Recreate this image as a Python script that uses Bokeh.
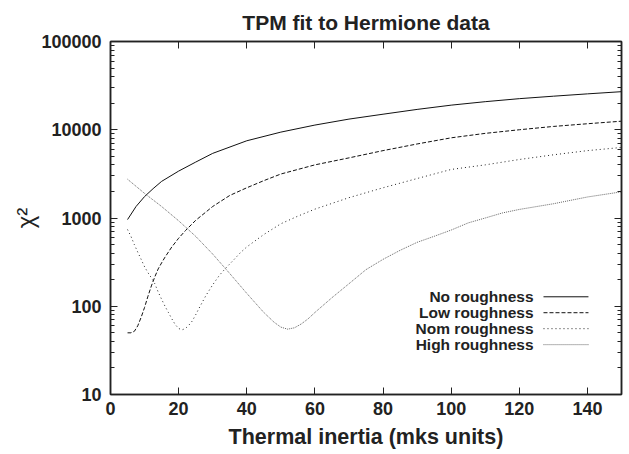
from bokeh.plotting import figure
from bokeh.models import (FixedTicker, LinearAxis, LogAxis, Label, Arrow, Range1d,
                          CustomJSTickFormatter)
from bokeh.embed import file_html
from bokeh.resources import INLINE

# ---------------- data ----------------
TITLE = "TPM fit to Hermione data"
X_LABEL = "Thermal inertia (mks units)"
Y_LABEL = "χ²"
X_TICKS = [0, 20, 40, 60, 80, 100, 120, 140]
Y_TICKS = [10, 100, 1000, 10000, 100000]
Y_TICK_LABELS = ["10", "100", "1000", "10000", "100000"]
Y_MINOR = [m * d for d in [10, 100, 1000, 10000] for m in range(2, 10)]

SERIES_NAMES = ["No roughness", "Low roughness", "Nom roughness", "High roughness"]

NO_X = [5, 7.5, 10, 12.5, 15, 20, 25, 30, 40, 50, 60, 70, 80, 90, 100, 110, 120, 130, 140, 150]
NO_Y = [960, 1350, 1750, 2150, 2600, 3400, 4300, 5400, 7500, 9400, 11300, 13200, 15000, 17000,
        19000, 20800, 22500, 24000, 25500, 27000]

LOW_X = [5, 6, 7, 8, 9, 10, 11, 12, 13, 14, 15, 16, 18, 20, 22, 25, 30, 35, 40, 45, 50, 60, 70,
         80, 90, 100, 110, 120, 130, 140, 150]
LOW_Y = [50, 50, 52, 60, 75, 97, 130, 170, 215, 265, 310, 360, 470, 590, 720, 940, 1350, 1800,
         2200, 2650, 3150, 4000, 4800, 5800, 6900, 8100, 9100, 10000, 10900, 11700, 12500]

NOM_X = [5, 6, 7, 8, 9, 10, 11, 12, 13, 14, 15, 16, 17, 18, 19, 20, 21, 22, 23, 24, 25, 26, 27,
         28, 30, 32, 34, 36, 38, 40, 45, 50, 55, 60, 70, 80, 90, 100, 110, 120, 130, 140, 150]
NOM_Y = [740, 620, 500, 410, 340, 280, 240, 210, 180, 145, 120, 100, 85, 72, 62, 56, 54, 56, 61,
         68, 80, 95, 112, 132, 175, 225, 275, 330, 400, 470, 650, 860, 1050, 1260, 1700, 2200,
         2800, 3550, 4000, 4600, 5200, 5800, 6300]

HIGH_X = [5, 10, 15, 20, 25, 30, 35, 40, 45, 48, 50, 52, 54, 56, 58, 60, 65, 70, 75, 80, 85, 90,
          95, 100, 105, 110, 115, 120, 130, 140, 150]
HIGH_Y = [2750, 1900, 1350, 930, 620, 390, 235, 140, 85, 66, 58, 55, 57, 63, 72, 85, 125, 180,
          260, 340, 430, 530, 620, 730, 880, 1000, 1140, 1250, 1450, 1730, 1980]

# ---------------- styles ----------------
FONT = "Liberation Sans"
DASHES = ["solid", "4 2", "1 3", "1 1"]
COLORS = ["#111111", "#111111", "#222222", "#555555"]
WIDTHS = [1.0, 1.0, 1.0, 0.9]

p = figure(width=629, height=454,
           x_range=Range1d(0, 150), y_range=Range1d(10, 100000),
           y_axis_type="log", output_backend="svg", toolbar_location=None,
           min_border_left=110, min_border_right=8, min_border_top=40, min_border_bottom=60)

p.title.text = TITLE
p.title.align = "center"
p.title.text_font = FONT
p.title.text_font_size = "21px"
p.title.text_font_style = "bold"
p.title.text_color = "#222222"
p.title.standoff = 16

p.xgrid.visible = False
p.ygrid.visible = False
p.outline_line_color = "#222222"
p.outline_line_width = 1.5
p.background_fill_color = "white"
p.border_fill_color = "white"

xs = [NO_X, LOW_X, NOM_X, HIGH_X]
ys = [NO_Y, LOW_Y, NOM_Y, HIGH_Y]
for i in range(4):
    p.line(xs[i], ys[i], line_color=COLORS[i], line_width=WIDTHS[i], line_dash=DASHES[i])

# axes
xa = p.xaxis[0]
xa.ticker = FixedTicker(ticks=X_TICKS)
xa.axis_label = X_LABEL
ya = p.yaxis[0]
ya.ticker = FixedTicker(ticks=Y_TICKS, minor_ticks=Y_MINOR)
ya.major_label_overrides = {t: l for t, l in zip(Y_TICKS, Y_TICK_LABELS)}
ya.axis_label = Y_LABEL

blank = CustomJSTickFormatter(code="return '';")
top = LinearAxis(ticker=FixedTicker(ticks=X_TICKS), formatter=blank)
right = LogAxis(ticker=FixedTicker(ticks=Y_TICKS, minor_ticks=Y_MINOR), formatter=blank)
p.add_layout(top, "above")
p.add_layout(right, "right")

for ax in [xa, ya, top, right]:
    ax.axis_line_color = "#222222"
    ax.axis_line_width = 1.5
    ax.major_tick_line_color = "#222222"
    ax.minor_tick_line_color = "#222222"
    ax.major_tick_in = 7
    ax.major_tick_out = 0
    ax.minor_tick_in = 4
    ax.minor_tick_out = 0
    ax.major_label_text_font = FONT
    ax.major_label_text_font_style = "bold"
    ax.major_label_text_font_size = "18px"
    ax.major_label_text_color = "#222222"
    ax.axis_label_text_font = FONT
    ax.axis_label_text_color = "#222222"

for ax in [xa, top]:
    ax.minor_tick_line_color = None

for ax in [top, right]:
    ax.major_label_standoff = 0

xa.major_label_standoff = 7
xa.axis_label_text_font_size = "21.5px"
xa.axis_label_text_font_style = "bold"
xa.axis_label_standoff = 7
ya.major_label_standoff = 9
ya.axis_label_text_font_size = "24px"
ya.axis_label_text_font_style = "normal"
ya.axis_label_standoff = -1

# legend (text right-aligned, sample line to the right)
LEG_TEXT_X = 124.2
LEG_LINE_X0 = 127.1
LEG_LINE_X1 = 140.3
LEG_Y = [128, 84.5, 55.7, 36.7]
for i, name in enumerate(SERIES_NAMES):
    p.add_layout(Label(x=LEG_TEXT_X, y=LEG_Y[i], text=name, text_align="right",
                       text_baseline="middle", text_font=FONT, text_font_style="bold",
                       text_font_size="15.5px", text_color="#222222"))
    p.add_layout(Arrow(end=None, x_start=LEG_LINE_X0, y_start=LEG_Y[i],
                       x_end=LEG_LINE_X1, y_end=LEG_Y[i], line_color=COLORS[i],
                       line_width=WIDTHS[i], line_dash=DASHES[i]))

open("out.html", "w").write(file_html(p, INLINE))
